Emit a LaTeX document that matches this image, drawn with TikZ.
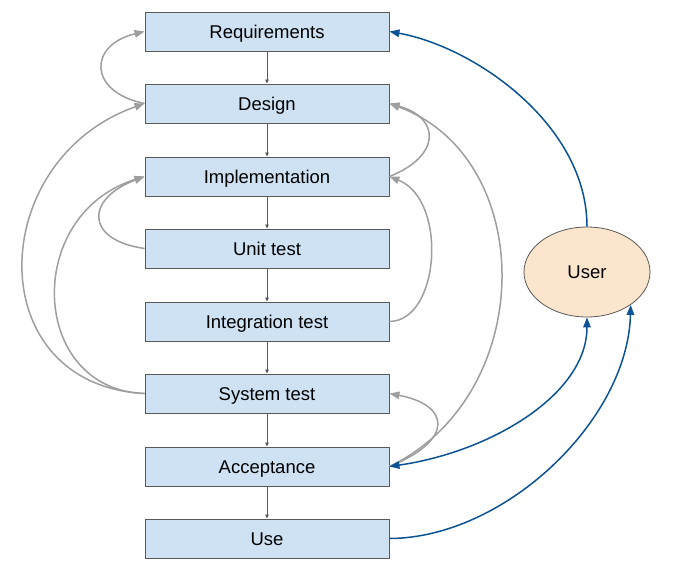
\documentclass[tikz,border=0pt]{standalone}
\usepackage{fontspec}
\setmainfont{Liberation Sans}
\usetikzlibrary{arrows.meta,shapes.geometric}
\definecolor{boxfill}{HTML}{CFE2F3}
\definecolor{boxline}{HTML}{595959}
\definecolor{userfill}{HTML}{FCE5CD}
\definecolor{fb}{HTML}{9E9E9E}
\definecolor{ublue}{HTML}{0B5394}
\begin{document}
\begin{tikzpicture}[x=1pt,y=1pt,
 stage/.style={draw=boxline,line width=0.9pt,fill=boxfill,minimum width=244pt,minimum height=39pt,inner sep=0pt,text height=13.2pt,text depth=0pt,font=\fontsize{18.5}{20}\selectfont},
 actor/.style={ellipse,draw=boxline,line width=0.8pt,fill=userfill,minimum width=126pt,minimum height=90pt,inner sep=0pt,text height=13.2pt,text depth=0pt,font=\fontsize{18.5}{20}\selectfont},
 flow/.style={draw=boxline,line width=0.8pt,-{Triangle[length=4pt,width=3.5pt]}},
 back/.style={draw=fb,line width=1.5pt,-{Triangle[length=10pt,width=7.5pt]}},
 link/.style={draw=ublue,line width=1.5pt,-{Triangle[length=10pt,width=7.5pt]}},
 linkboth/.style={draw=ublue,line width=1.5pt,{Triangle[length=10pt,width=7.5pt]}-{Triangle[length=10pt,width=7.5pt]}},
]
\useasboundingbox (0,0) rectangle (673,-571);
\node[stage] (req)   at (267,-31.5)  {Requirements};
\node[stage] (des)   at (267,-103.5) {Design};
\node[stage] (impl)  at (267,-176.5) {Implementation};
\node[stage] (unit)  at (267,-248.5) {Unit test};
\node[stage] (integ) at (267,-321.5) {Integration test};
\node[stage] (sys)   at (267,-393.5) {System test};
\node[stage] (acc)   at (267,-466.5) {Acceptance};
\node[stage] (use)   at (267,-538.5) {Use};
\node[actor] (U)     at (587,-272)   {User};

\draw[flow] (req) -- (des);
\draw[flow] (des) -- (impl);
\draw[flow] (impl) -- (unit);
\draw[flow] (unit) -- (integ);
\draw[flow] (integ) -- (sys);
\draw[flow] (sys) -- (acc);
\draw[flow] (acc) -- (use);

\draw[back] (des.west) .. controls (88,-92) and (88,-45) .. (req.west);
\draw[back] (unit.west) .. controls (85,-240) and (85,-199) .. (impl.west);
\draw[back] (sys.west) .. controls (-20,-385) and (-15,-160) .. (des.west);
\draw[back] (sys.west) .. controls (30,-390) and (22,-215) .. (impl.west);
\draw[back] (impl.east) .. controls (441,-156) and (441,-118) .. (des.east);
\draw[back] (integ.east) .. controls (440,-321) and (448,-200) .. (impl.east);
\draw[back] (acc.east) .. controls (538,-395) and (538,-158) .. (des.east);
\draw[back] (acc.east) .. controls (455,-440) and (450,-405) .. (sys.east);

\draw[link] (U.north) .. controls (587,-125) and (475,-47) .. (req.east);
\draw[linkboth] (acc.east) .. controls (490,-452) and (587,-395) .. (U.south);
\draw[link] (use.east) .. controls (505,-538) and (628,-420) .. (U.-37);
\end{tikzpicture}
\end{document}
